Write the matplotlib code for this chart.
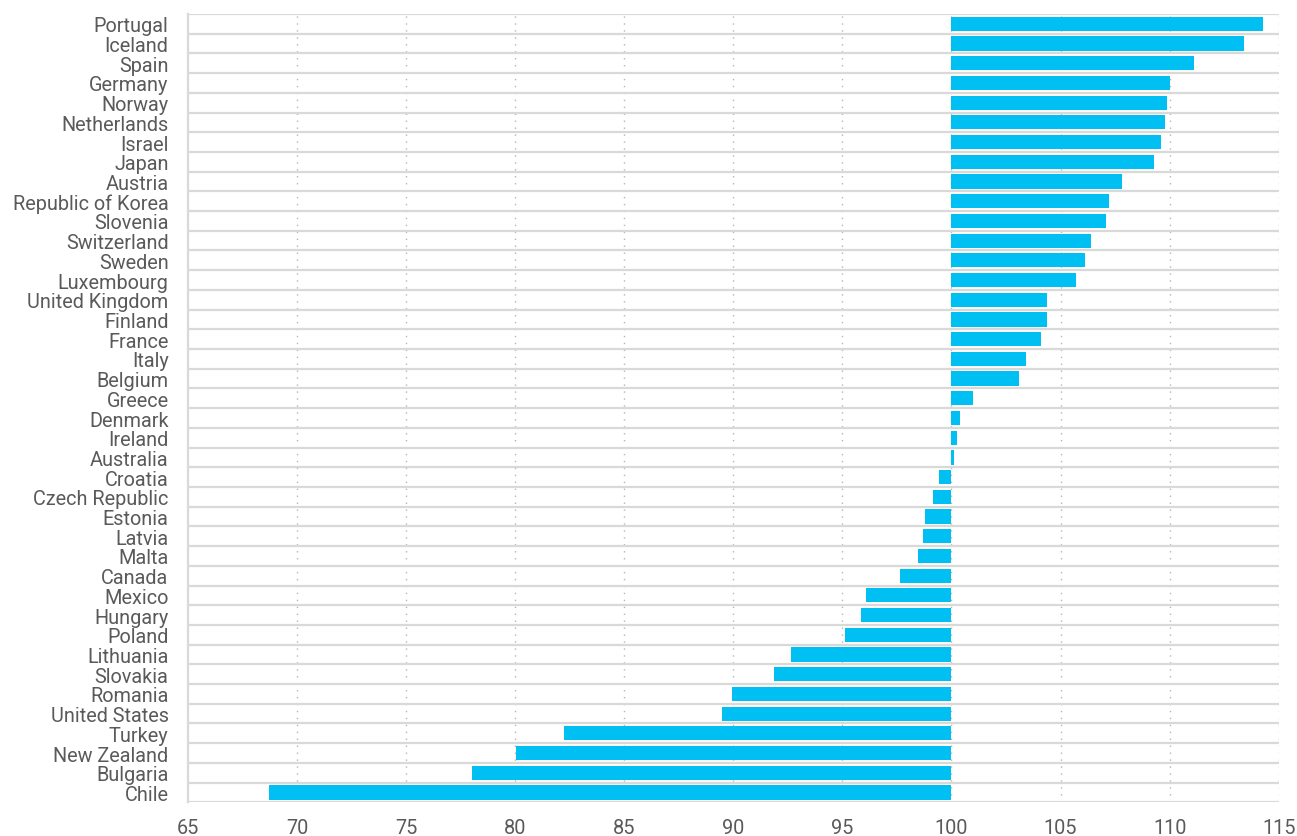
import matplotlib
matplotlib.use("Agg")
import matplotlib.pyplot as plt
from matplotlib.ticker import FixedLocator

countries = ["Portugal", "Iceland", "Spain", "Germany", "Norway", "Netherlands", "Israel",
             "Japan", "Austria", "Republic of Korea", "Slovenia", "Switzerland", "Sweden",
             "Luxembourg", "United Kingdom", "Finland", "France", "Italy", "Belgium", "Greece",
             "Denmark", "Ireland", "Australia", "Croatia", "Czech Republic", "Estonia", "Latvia",
             "Malta", "Canada", "Mexico", "Hungary", "Poland", "Lithuania", "Slovakia",
             "Romania", "United States", "Turkey", "New Zealand", "Bulgaria", "Chile"]
values = [114.3, 113.4, 111.1, 110.0, 109.9, 109.8, 109.6, 109.3, 107.8, 107.2, 107.1,
          106.4, 106.1, 105.7, 104.4, 104.4, 104.1, 103.4, 103.1, 101.0, 100.4, 100.25,
          100.1, 99.45, 99.15, 98.8, 98.7, 98.45, 97.65, 96.1, 95.85, 95.1, 92.65, 91.85,
          89.95, 89.5, 82.25, 80.05, 78.0, 68.7]
base = 100
xticks = [65, 70, 75, 80, 85, 90, 95, 100, 105, 110, 115]

plt.rcParams['font.family'] = ['Roboto', 'DejaVu Sans']
text_color = '#5a5a5a'
bar_color = '#00C0F3'

fig = plt.figure(figsize=(12.97, 8.37), dpi=100)
ax = fig.add_axes([188/1297, 1-803.3/837, (1278.7-188)/1297, (803.3-15)/837])

n = len(countries)
ypos = list(range(n))
widths = [v - base for v in values]
ax.barh(ypos, widths, left=base, height=0.72, color=bar_color, zorder=3)

ax.set_xlim(65, 115)
ax.set_ylim(n - 0.5, -0.5)

# dotted vertical grid
for xv in xticks[1:]:
    ax.axvline(xv, color='#b5b5b5', lw=1.0, ls=(0, (1, 4)), zorder=1)
# row separators
for k in range(n + 1):
    ax.axhline(k - 0.5, color='#d9d9d9', lw=1.6, zorder=2)

ax.set_yticks(ypos)
ax.set_yticklabels(countries)
ax.xaxis.set_major_locator(FixedLocator(xticks))
ax.set_xticklabels([str(x) for x in xticks])
ax.tick_params(axis='y', length=0, pad=14, labelsize=14.3, labelcolor=text_color)
ax.tick_params(axis='x', length=0, pad=11, labelsize=14.3, labelcolor=text_color)

for s in ['top', 'right', 'bottom']:
    ax.spines[s].set_visible(False)
ax.spines['left'].set_color('#d9d9d9')
ax.spines['left'].set_linewidth(1.6)

fig.savefig("out.png", dpi=100)
